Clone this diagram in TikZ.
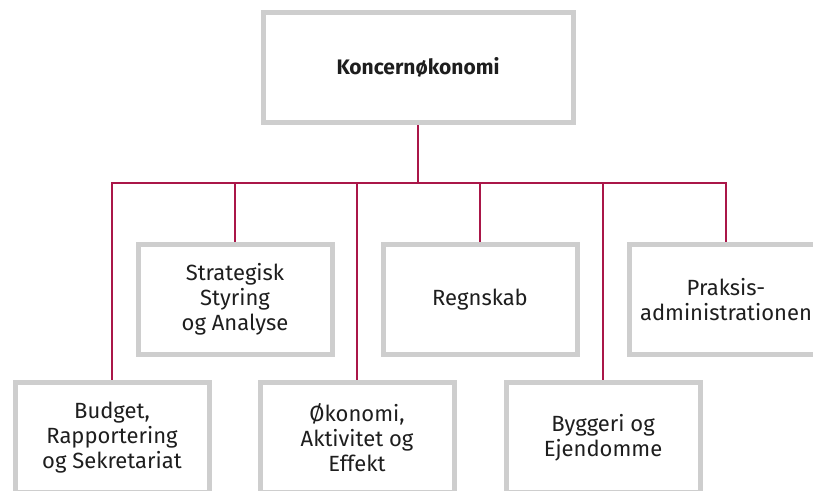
\documentclass[tikz,border=0pt]{standalone}
\usepackage{fontspec}
\setmainfont{Fira Sans}
\usetikzlibrary{backgrounds}
\definecolor{boxgray}{RGB}{206,206,206}
\definecolor{linkred}{RGB}{170,22,72}
\definecolor{textdark}{RGB}{30,30,30}
\tikzset{
    unit/.style={draw=boxgray, line width=5pt, fill=white, minimum width=194pt, minimum height=110pt,
        inner sep=0pt, align=center, text=textdark, font=\fontsize{22}{25}\selectfont},
    link/.style={draw=linkred, line width=2pt}
}
\begin{document}
\begin{tikzpicture}[x=1pt,y=-1pt]
                    \useasboundingbox (0,0) rectangle (813,490);
                    \clip (0,0) rectangle (813,490);

                    \node[unit, minimum width=310pt, font=\bfseries\fontsize{21}{25}\selectfont] (top) at (418,67.5) {Koncernøkonomi};
                    \coordinate (bar) at (0,183);

                    \node[unit] (strategi) at (235,299.5) {Strategisk\\Styring\\og Analyse};
                    \node[unit] (regnskab) at (480,299.5) {Regnskab};
                    \node[unit] (praksis) at (726,299.5) {Praksis-\\administrationen};

                    \node[unit] (budget) at (112,437.5) {Budget,\\Rapportering\\og Sekretariat};
                    \node[unit] (oekonomi) at (357,437.5) {Økonomi,\\Aktivitet og\\Effekt};
                    \node[unit] (byggeri) at (603,437.5) {Byggeri og\\Ejendomme};

                    \begin{scope}[on background layer]
                    \draw[link] (top.south) -- (top.south |- bar);
                    \foreach \unitname in {budget,strategi,oekonomi,regnskab,byggeri,praksis}
                        \draw[link] (top.south |- bar) -| (\unitname.north);
                    \end{scope}

                \end{tikzpicture}
\end{document}
